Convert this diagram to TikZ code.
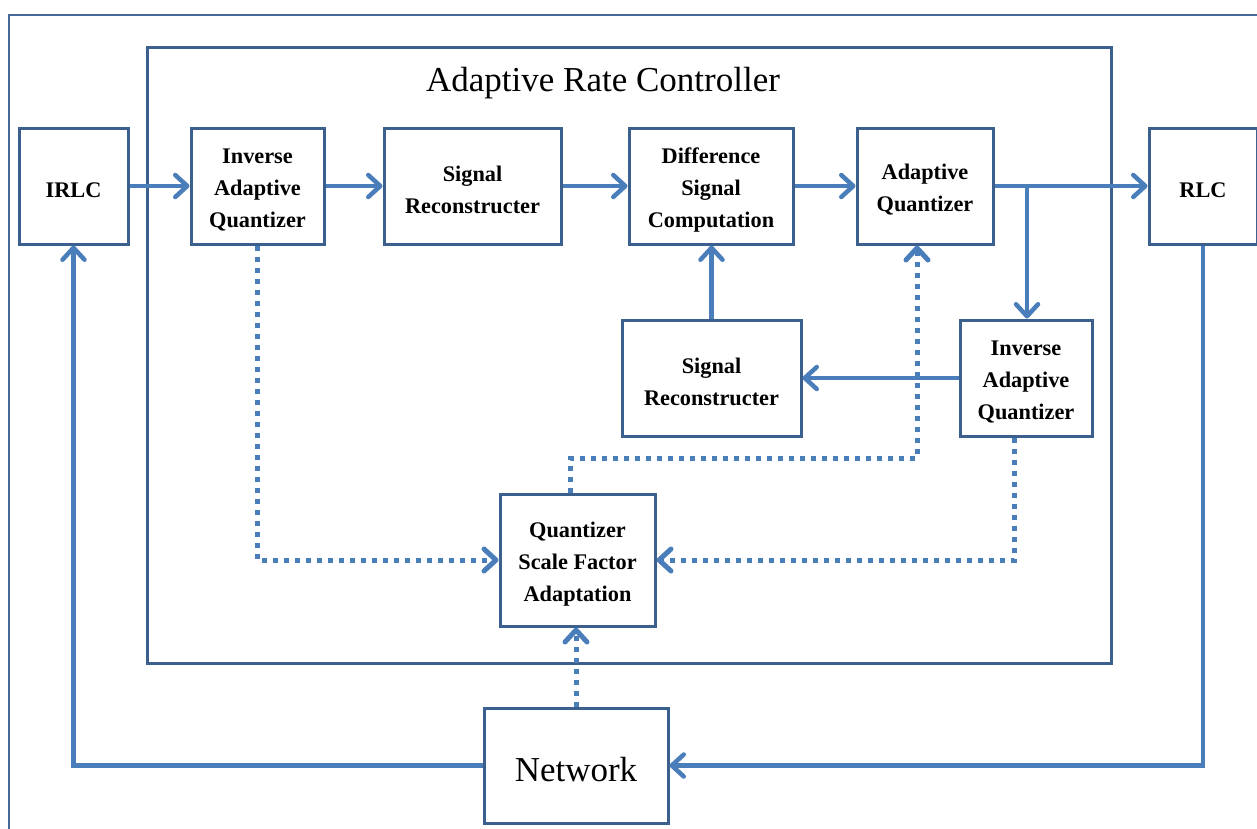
\documentclass[tikz,border=0pt]{standalone}
\usepackage{fontspec}
\setmainfont{Liberation Serif}
\usetikzlibrary{arrows.meta}
\definecolor{boxc}{RGB}{60,96,142}
\definecolor{arrc}{RGB}{74,126,187}
\definecolor{framec}{RGB}{70,106,152}
\tikzset{
  blk/.style={draw=boxc, line width=3pt, fill=white, inner sep=0pt},
  blktext/.style={inner sep=0pt, align=center,
    font=\bfseries\fontsize{22.3}{32}\selectfont},
  arr/.style={draw=arrc, line width=4.5pt, -{Straight Barb[length=12pt,width=22pt,round]}},
  dotarr/.style={draw=arrc, line width=5pt, dash pattern=on 5pt off 6pt,
    -{Straight Barb[length=12pt,width=22pt,round]}},
}
\begin{document}
\begin{tikzpicture}[x=1pt,y=-1pt]
\useasboundingbox (0,0) rectangle (1257,828);
\clip (0,0) rectangle (1257,828);
\fill[white] (0,0) rectangle (1257,828);
% outer frame
\draw[framec, line width=1.5pt] (9,840) -- (9,15) -- (1270,15);
% container
\draw[boxc, line width=3pt] (147,47) rectangle (1111,663);
\node[font=\fontsize{35}{40}\selectfont] (title) at (603,83) {Adaptive Rate Controller};
% blocks
\node[blk, minimum width=109pt, minimum height=116pt] (irlc) at (73.5,186) {};
\node[blk, minimum width=133pt, minimum height=116pt] (iaq1) at (257.5,186) {};
\node[blk, minimum width=177pt, minimum height=116pt] (sr1) at (472.5,186) {};
\node[blk, minimum width=164pt, minimum height=116pt] (dsc) at (711,186) {};
\node[blk, minimum width=136pt, minimum height=116pt] (aq) at (925,186) {};
\node[blk, minimum width=108pt, minimum height=116pt] (rlc) at (1203,186) {};
\node[blk, minimum width=179pt, minimum height=116pt] (sr2) at (711.5,378) {};
\node[blk, minimum width=132pt, minimum height=116pt] (iaq2) at (1026,378) {};
\node[blk, minimum width=155pt, minimum height=132pt] (qsfa) at (577.5,560) {};
\node[blk, minimum width=184pt, minimum height=115pt] (net) at (576,765.5) {};
% block texts
\node[blktext] (irlct) at ([yshift=-4pt]irlc.center) {IRLC};
\node[blktext] (iaq1t) at ([yshift=-4pt]iaq1.center) {Inverse\\Adaptive\\Quantizer};
\node[blktext] (sr1t) at ([yshift=-4pt]sr1.center) {Signal\\Reconstructer};
\node[blktext] (dsct) at ([yshift=-4pt]dsc.center) {Difference\\Signal\\Computation};
\node[blktext] (aqt) at ([yshift=-4pt]aq.center) {Adaptive\\Quantizer};
\node[blktext] (rlct) at ([yshift=-4pt]rlc.center) {RLC};
\node[blktext] (sr2t) at ([yshift=-4pt]sr2.center) {Signal\\Reconstructer};
\node[blktext] (iaq2t) at ([yshift=-4pt]iaq2.center) {Inverse\\Adaptive\\Quantizer};
\node[blktext] (qsfat) at ([yshift=-4pt]qsfa.center) {Quantizer\\Scale Factor\\Adaptation};
\node[inner sep=0pt, font=\fontsize{35}{40}\selectfont] (nett) at ([yshift=-4pt]net.center) {Network};
% solid connectors
\draw[arr] (irlc) -- (iaq1);
\draw[arr] (iaq1) -- (sr1);
\draw[arr] (sr1) -- (dsc);
\draw[arr] (dsc) -- (aq);
\draw[arr] (aq) -- (rlc);
\coordinate (br) at (1027,186);
\draw[arr] (br) -- (br |- iaq2.north);
\draw[arr] (iaq2) -- (sr2);
\draw[arr] (sr2.north) -- (sr2.north |- dsc.south);
\draw[arr] (net.west) -| (irlc.south);
\draw[arr] (rlc.south) |- (net.east);
% dotted connectors
\draw[dotarr] (net.north) -- (net.north |- qsfa.south);
\draw[dotarr] (iaq1.south) |- (qsfa.west);
\draw[dotarr] ([xshift=-12pt]iaq2.south) |- (qsfa.east);
\coordinate (qt) at ([xshift=-7pt]qsfa.north);
\coordinate (aqb) at ([xshift=-8pt]aq.south);
\draw[dotarr] (qt) -- (qt |- 0,458) -| (aqb);
\end{tikzpicture}
\end{document}
